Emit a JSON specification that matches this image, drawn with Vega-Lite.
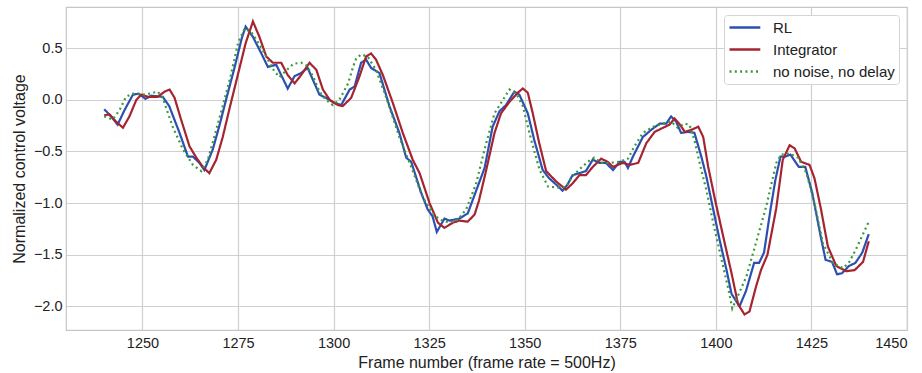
{
  "$schema": "https://vega.github.io/schema/vega-lite/v6.json",
  "width": 841,
  "height": 323,
  "autosize": {"type": "none"},
  "padding": {"left": 66, "top": 7, "right": 15, "bottom": 43},
  "background": "white",
  "config": {
    "view": {"stroke": "#c6c6c6", "strokeWidth": 1.2},
    "font": "Liberation Sans",
    "axis": {
      "domain": false,
      "ticks": false,
      "gridColor": "#cfcfcf",
      "gridWidth": 1.2,
      "labelColor": "#222222",
      "titleColor": "#222222",
      "labelFontSize": 14.5,
      "titleFontSize": 16,
      "titleFontWeight": "normal",
      "labelFont": "Liberation Sans",
      "titleFont": "Liberation Sans"
    },
    "legend": {
      "labelFont": "Liberation Sans",
      "labelFontSize": 15,
      "labelColor": "#222222"
    }
  },
  "data": {
    "values": [
      {"frame": 1240, "v": -0.09, "series": "RL"},
      {"frame": 1242, "v": -0.17, "series": "RL"},
      {"frame": 1243.5, "v": -0.24, "series": "RL"},
      {"frame": 1245.3, "v": -0.10, "series": "RL"},
      {"frame": 1247.5, "v": 0.05, "series": "RL"},
      {"frame": 1249, "v": 0.06, "series": "RL"},
      {"frame": 1250.8, "v": 0.01, "series": "RL"},
      {"frame": 1252.3, "v": 0.04, "series": "RL"},
      {"frame": 1255.3, "v": 0.03, "series": "RL"},
      {"frame": 1257, "v": -0.06, "series": "RL"},
      {"frame": 1259.7, "v": -0.32, "series": "RL"},
      {"frame": 1261.9, "v": -0.55, "series": "RL"},
      {"frame": 1263.2, "v": -0.55, "series": "RL"},
      {"frame": 1264.9, "v": -0.61, "series": "RL"},
      {"frame": 1266.2, "v": -0.68, "series": "RL"},
      {"frame": 1268.4, "v": -0.48, "series": "RL"},
      {"frame": 1270.2, "v": -0.24, "series": "RL"},
      {"frame": 1272, "v": 0.02, "series": "RL"},
      {"frame": 1274, "v": 0.30, "series": "RL"},
      {"frame": 1276, "v": 0.60, "series": "RL"},
      {"frame": 1277, "v": 0.71, "series": "RL"},
      {"frame": 1278.9, "v": 0.61, "series": "RL"},
      {"frame": 1281.1, "v": 0.45, "series": "RL"},
      {"frame": 1282.8, "v": 0.32, "series": "RL"},
      {"frame": 1285, "v": 0.34, "series": "RL"},
      {"frame": 1286.7, "v": 0.21, "series": "RL"},
      {"frame": 1288, "v": 0.11, "series": "RL"},
      {"frame": 1289.8, "v": 0.23, "series": "RL"},
      {"frame": 1291.5, "v": 0.26, "series": "RL"},
      {"frame": 1293.2, "v": 0.31, "series": "RL"},
      {"frame": 1295, "v": 0.16, "series": "RL"},
      {"frame": 1296.3, "v": 0.05, "series": "RL"},
      {"frame": 1298, "v": 0.02, "series": "RL"},
      {"frame": 1300.2, "v": -0.03, "series": "RL"},
      {"frame": 1302, "v": -0.05, "series": "RL"},
      {"frame": 1304.2, "v": 0.10, "series": "RL"},
      {"frame": 1305.5, "v": 0.13, "series": "RL"},
      {"frame": 1307.2, "v": 0.36, "series": "RL"},
      {"frame": 1308.5, "v": 0.39, "series": "RL"},
      {"frame": 1309.8, "v": 0.31, "series": "RL"},
      {"frame": 1312, "v": 0.26, "series": "RL"},
      {"frame": 1314.6, "v": -0.06, "series": "RL"},
      {"frame": 1317.2, "v": -0.32, "series": "RL"},
      {"frame": 1319, "v": -0.56, "series": "RL"},
      {"frame": 1320.3, "v": -0.60, "series": "RL"},
      {"frame": 1322.9, "v": -0.90, "series": "RL"},
      {"frame": 1324.6, "v": -1.06, "series": "RL"},
      {"frame": 1325.9, "v": -1.13, "series": "RL"},
      {"frame": 1327, "v": -1.28, "series": "RL"},
      {"frame": 1329, "v": -1.15, "series": "RL"},
      {"frame": 1330.3, "v": -1.17, "series": "RL"},
      {"frame": 1332.9, "v": -1.15, "series": "RL"},
      {"frame": 1335.1, "v": -1.10, "series": "RL"},
      {"frame": 1337.3, "v": -0.88, "series": "RL"},
      {"frame": 1339.5, "v": -0.66, "series": "RL"},
      {"frame": 1341.6, "v": -0.26, "series": "RL"},
      {"frame": 1343.4, "v": -0.11, "series": "RL"},
      {"frame": 1345.1, "v": -0.05, "series": "RL"},
      {"frame": 1347.3, "v": 0.08, "series": "RL"},
      {"frame": 1348.6, "v": 0.05, "series": "RL"},
      {"frame": 1350.8, "v": -0.13, "series": "RL"},
      {"frame": 1352.5, "v": -0.39, "series": "RL"},
      {"frame": 1354.7, "v": -0.68, "series": "RL"},
      {"frame": 1356.4, "v": -0.76, "series": "RL"},
      {"frame": 1358.2, "v": -0.82, "series": "RL"},
      {"frame": 1359.9, "v": -0.88, "series": "RL"},
      {"frame": 1361.2, "v": -0.82, "series": "RL"},
      {"frame": 1362.5, "v": -0.73, "series": "RL"},
      {"frame": 1364.3, "v": -0.71, "series": "RL"},
      {"frame": 1366, "v": -0.69, "series": "RL"},
      {"frame": 1367.8, "v": -0.58, "series": "RL"},
      {"frame": 1369.5, "v": -0.61, "series": "RL"},
      {"frame": 1371.2, "v": -0.61, "series": "RL"},
      {"frame": 1373.1, "v": -0.68, "series": "RL"},
      {"frame": 1374.8, "v": -0.60, "series": "RL"},
      {"frame": 1376.1, "v": -0.60, "series": "RL"},
      {"frame": 1377, "v": -0.66, "series": "RL"},
      {"frame": 1378.3, "v": -0.55, "series": "RL"},
      {"frame": 1380.9, "v": -0.36, "series": "RL"},
      {"frame": 1383.1, "v": -0.29, "series": "RL"},
      {"frame": 1385.3, "v": -0.23, "series": "RL"},
      {"frame": 1387, "v": -0.23, "series": "RL"},
      {"frame": 1388.3, "v": -0.16, "series": "RL"},
      {"frame": 1389.6, "v": -0.21, "series": "RL"},
      {"frame": 1390.9, "v": -0.32, "series": "RL"},
      {"frame": 1392.7, "v": -0.31, "series": "RL"},
      {"frame": 1394.4, "v": -0.32, "series": "RL"},
      {"frame": 1396.2, "v": -0.55, "series": "RL"},
      {"frame": 1397.5, "v": -0.74, "series": "RL"},
      {"frame": 1399.3, "v": -1.06, "series": "RL"},
      {"frame": 1401, "v": -1.36, "series": "RL"},
      {"frame": 1402.8, "v": -1.65, "series": "RL"},
      {"frame": 1404.1, "v": -1.88, "series": "RL"},
      {"frame": 1406.2, "v": -2.00, "series": "RL"},
      {"frame": 1407.9, "v": -1.85, "series": "RL"},
      {"frame": 1410, "v": -1.58, "series": "RL"},
      {"frame": 1411.3, "v": -1.58, "series": "RL"},
      {"frame": 1412.6, "v": -1.48, "series": "RL"},
      {"frame": 1414.3, "v": -1.06, "series": "RL"},
      {"frame": 1415.6, "v": -0.77, "series": "RL"},
      {"frame": 1416.9, "v": -0.55, "series": "RL"},
      {"frame": 1418.2, "v": -0.55, "series": "RL"},
      {"frame": 1419.5, "v": -0.53, "series": "RL"},
      {"frame": 1421.7, "v": -0.65, "series": "RL"},
      {"frame": 1423.4, "v": -0.65, "series": "RL"},
      {"frame": 1425.2, "v": -0.90, "series": "RL"},
      {"frame": 1427.4, "v": -1.32, "series": "RL"},
      {"frame": 1428.7, "v": -1.55, "series": "RL"},
      {"frame": 1430.4, "v": -1.57, "series": "RL"},
      {"frame": 1431.7, "v": -1.69, "series": "RL"},
      {"frame": 1433, "v": -1.68, "series": "RL"},
      {"frame": 1434.8, "v": -1.61, "series": "RL"},
      {"frame": 1436.5, "v": -1.58, "series": "RL"},
      {"frame": 1438.3, "v": -1.48, "series": "RL"},
      {"frame": 1440, "v": -1.30, "series": "RL"},

      {"frame": 1240, "v": -0.15, "series": "Integrator"},
      {"frame": 1241.4, "v": -0.14, "series": "Integrator"},
      {"frame": 1243.1, "v": -0.21, "series": "Integrator"},
      {"frame": 1244.9, "v": -0.27, "series": "Integrator"},
      {"frame": 1246.6, "v": -0.16, "series": "Integrator"},
      {"frame": 1248.4, "v": 0.0, "series": "Integrator"},
      {"frame": 1249.7, "v": 0.05, "series": "Integrator"},
      {"frame": 1251.4, "v": 0.03, "series": "Integrator"},
      {"frame": 1254, "v": 0.03, "series": "Integrator"},
      {"frame": 1255.8, "v": 0.08, "series": "Integrator"},
      {"frame": 1257.1, "v": 0.10, "series": "Integrator"},
      {"frame": 1258.4, "v": 0.02, "series": "Integrator"},
      {"frame": 1260.1, "v": -0.19, "series": "Integrator"},
      {"frame": 1262.3, "v": -0.45, "series": "Integrator"},
      {"frame": 1264.1, "v": -0.56, "series": "Integrator"},
      {"frame": 1265.8, "v": -0.65, "series": "Integrator"},
      {"frame": 1267.5, "v": -0.71, "series": "Integrator"},
      {"frame": 1269.3, "v": -0.58, "series": "Integrator"},
      {"frame": 1271, "v": -0.36, "series": "Integrator"},
      {"frame": 1273, "v": -0.05, "series": "Integrator"},
      {"frame": 1275, "v": 0.25, "series": "Integrator"},
      {"frame": 1277, "v": 0.55, "series": "Integrator"},
      {"frame": 1278.9, "v": 0.76, "series": "Integrator"},
      {"frame": 1280.6, "v": 0.61, "series": "Integrator"},
      {"frame": 1282.4, "v": 0.42, "series": "Integrator"},
      {"frame": 1284.1, "v": 0.36, "series": "Integrator"},
      {"frame": 1286.3, "v": 0.36, "series": "Integrator"},
      {"frame": 1288, "v": 0.24, "series": "Integrator"},
      {"frame": 1289.8, "v": 0.16, "series": "Integrator"},
      {"frame": 1291.5, "v": 0.24, "series": "Integrator"},
      {"frame": 1293.7, "v": 0.36, "series": "Integrator"},
      {"frame": 1295.5, "v": 0.29, "series": "Integrator"},
      {"frame": 1297.2, "v": 0.10, "series": "Integrator"},
      {"frame": 1299, "v": 0.0, "series": "Integrator"},
      {"frame": 1301.1, "v": -0.05, "series": "Integrator"},
      {"frame": 1302.4, "v": -0.06, "series": "Integrator"},
      {"frame": 1304.6, "v": 0.02, "series": "Integrator"},
      {"frame": 1306.8, "v": 0.23, "series": "Integrator"},
      {"frame": 1308.5, "v": 0.42, "series": "Integrator"},
      {"frame": 1309.8, "v": 0.45, "series": "Integrator"},
      {"frame": 1311.1, "v": 0.39, "series": "Integrator"},
      {"frame": 1312.9, "v": 0.24, "series": "Integrator"},
      {"frame": 1315.5, "v": -0.03, "series": "Integrator"},
      {"frame": 1318.1, "v": -0.32, "series": "Integrator"},
      {"frame": 1320.7, "v": -0.58, "series": "Integrator"},
      {"frame": 1322.5, "v": -0.71, "series": "Integrator"},
      {"frame": 1325.1, "v": -1.0, "series": "Integrator"},
      {"frame": 1327.3, "v": -1.19, "series": "Integrator"},
      {"frame": 1329, "v": -1.24, "series": "Integrator"},
      {"frame": 1331.2, "v": -1.19, "series": "Integrator"},
      {"frame": 1332.9, "v": -1.17, "series": "Integrator"},
      {"frame": 1335.1, "v": -1.18, "series": "Integrator"},
      {"frame": 1336.9, "v": -1.11, "series": "Integrator"},
      {"frame": 1338, "v": -0.98, "series": "Integrator"},
      {"frame": 1339.8, "v": -0.70, "series": "Integrator"},
      {"frame": 1342.1, "v": -0.32, "series": "Integrator"},
      {"frame": 1343.8, "v": -0.13, "series": "Integrator"},
      {"frame": 1346, "v": -0.02, "series": "Integrator"},
      {"frame": 1348.2, "v": 0.07, "series": "Integrator"},
      {"frame": 1349.5, "v": 0.11, "series": "Integrator"},
      {"frame": 1350.8, "v": 0.07, "series": "Integrator"},
      {"frame": 1352.1, "v": -0.13, "series": "Integrator"},
      {"frame": 1353.8, "v": -0.42, "series": "Integrator"},
      {"frame": 1355.6, "v": -0.69, "series": "Integrator"},
      {"frame": 1358.2, "v": -0.79, "series": "Integrator"},
      {"frame": 1360.8, "v": -0.87, "series": "Integrator"},
      {"frame": 1362.5, "v": -0.81, "series": "Integrator"},
      {"frame": 1364.3, "v": -0.73, "series": "Integrator"},
      {"frame": 1366, "v": -0.73, "series": "Integrator"},
      {"frame": 1367.8, "v": -0.65, "series": "Integrator"},
      {"frame": 1370, "v": -0.57, "series": "Integrator"},
      {"frame": 1371.7, "v": -0.60, "series": "Integrator"},
      {"frame": 1373.1, "v": -0.65, "series": "Integrator"},
      {"frame": 1375.7, "v": -0.61, "series": "Integrator"},
      {"frame": 1377.5, "v": -0.63, "series": "Integrator"},
      {"frame": 1379.7, "v": -0.61, "series": "Integrator"},
      {"frame": 1381.8, "v": -0.42, "series": "Integrator"},
      {"frame": 1384, "v": -0.31, "series": "Integrator"},
      {"frame": 1386.2, "v": -0.27, "series": "Integrator"},
      {"frame": 1387.9, "v": -0.24, "series": "Integrator"},
      {"frame": 1389.2, "v": -0.18, "series": "Integrator"},
      {"frame": 1390.6, "v": -0.24, "series": "Integrator"},
      {"frame": 1391.9, "v": -0.31, "series": "Integrator"},
      {"frame": 1393.6, "v": -0.29, "series": "Integrator"},
      {"frame": 1395.4, "v": -0.26, "series": "Integrator"},
      {"frame": 1396.7, "v": -0.36, "series": "Integrator"},
      {"frame": 1398, "v": -0.65, "series": "Integrator"},
      {"frame": 1399.8, "v": -0.97, "series": "Integrator"},
      {"frame": 1401.9, "v": -1.32, "series": "Integrator"},
      {"frame": 1404.1, "v": -1.68, "series": "Integrator"},
      {"frame": 1405.8, "v": -1.98, "series": "Integrator"},
      {"frame": 1407.5, "v": -2.08, "series": "Integrator"},
      {"frame": 1408.8, "v": -2.05, "series": "Integrator"},
      {"frame": 1410.5, "v": -1.81, "series": "Integrator"},
      {"frame": 1411.8, "v": -1.65, "series": "Integrator"},
      {"frame": 1413.5, "v": -1.50, "series": "Integrator"},
      {"frame": 1415.8, "v": -1.05, "series": "Integrator"},
      {"frame": 1417.5, "v": -0.58, "series": "Integrator"},
      {"frame": 1419.3, "v": -0.44, "series": "Integrator"},
      {"frame": 1420.6, "v": -0.47, "series": "Integrator"},
      {"frame": 1422.3, "v": -0.60, "series": "Integrator"},
      {"frame": 1424.5, "v": -0.63, "series": "Integrator"},
      {"frame": 1425.8, "v": -0.76, "series": "Integrator"},
      {"frame": 1427.5, "v": -1.06, "series": "Integrator"},
      {"frame": 1429.3, "v": -1.42, "series": "Integrator"},
      {"frame": 1431.5, "v": -1.61, "series": "Integrator"},
      {"frame": 1434.1, "v": -1.66, "series": "Integrator"},
      {"frame": 1436.3, "v": -1.65, "series": "Integrator"},
      {"frame": 1438.5, "v": -1.57, "series": "Integrator"},
      {"frame": 1440, "v": -1.37, "series": "Integrator"},

      {"frame": 1240, "v": -0.16, "series": "no noise, no delay"},
      {"frame": 1242.2, "v": -0.19, "series": "no noise, no delay"},
      {"frame": 1244, "v": -0.10, "series": "no noise, no delay"},
      {"frame": 1245.7, "v": 0.03, "series": "no noise, no delay"},
      {"frame": 1247.5, "v": 0.06, "series": "no noise, no delay"},
      {"frame": 1250.1, "v": 0.05, "series": "no noise, no delay"},
      {"frame": 1251.8, "v": 0.06, "series": "no noise, no delay"},
      {"frame": 1254, "v": 0.08, "series": "no noise, no delay"},
      {"frame": 1255.3, "v": 0.02, "series": "no noise, no delay"},
      {"frame": 1257.9, "v": -0.26, "series": "no noise, no delay"},
      {"frame": 1260.6, "v": -0.48, "series": "no noise, no delay"},
      {"frame": 1263.2, "v": -0.63, "series": "no noise, no delay"},
      {"frame": 1265.4, "v": -0.69, "series": "no noise, no delay"},
      {"frame": 1267.1, "v": -0.58, "series": "no noise, no delay"},
      {"frame": 1269.3, "v": -0.29, "series": "no noise, no delay"},
      {"frame": 1271, "v": -0.06, "series": "no noise, no delay"},
      {"frame": 1273, "v": 0.22, "series": "no noise, no delay"},
      {"frame": 1275, "v": 0.55, "series": "no noise, no delay"},
      {"frame": 1276.7, "v": 0.69, "series": "no noise, no delay"},
      {"frame": 1278.4, "v": 0.66, "series": "no noise, no delay"},
      {"frame": 1280.2, "v": 0.56, "series": "no noise, no delay"},
      {"frame": 1282.4, "v": 0.42, "series": "no noise, no delay"},
      {"frame": 1284.1, "v": 0.30, "series": "no noise, no delay"},
      {"frame": 1285.8, "v": 0.22, "series": "no noise, no delay"},
      {"frame": 1287.5, "v": 0.28, "series": "no noise, no delay"},
      {"frame": 1289.5, "v": 0.35, "series": "no noise, no delay"},
      {"frame": 1291.5, "v": 0.36, "series": "no noise, no delay"},
      {"frame": 1293, "v": 0.33, "series": "no noise, no delay"},
      {"frame": 1294.6, "v": 0.23, "series": "no noise, no delay"},
      {"frame": 1296.3, "v": 0.08, "series": "no noise, no delay"},
      {"frame": 1298, "v": 0.0, "series": "no noise, no delay"},
      {"frame": 1299.8, "v": -0.05, "series": "no noise, no delay"},
      {"frame": 1301.5, "v": 0.0, "series": "no noise, no delay"},
      {"frame": 1303.8, "v": 0.16, "series": "no noise, no delay"},
      {"frame": 1305.1, "v": 0.32, "series": "no noise, no delay"},
      {"frame": 1305.9, "v": 0.40, "series": "no noise, no delay"},
      {"frame": 1307.2, "v": 0.44, "series": "no noise, no delay"},
      {"frame": 1308.9, "v": 0.42, "series": "no noise, no delay"},
      {"frame": 1311.1, "v": 0.29, "series": "no noise, no delay"},
      {"frame": 1313.8, "v": 0.02, "series": "no noise, no delay"},
      {"frame": 1317.2, "v": -0.36, "series": "no noise, no delay"},
      {"frame": 1320.3, "v": -0.65, "series": "no noise, no delay"},
      {"frame": 1323.3, "v": -0.94, "series": "no noise, no delay"},
      {"frame": 1325.9, "v": -1.10, "series": "no noise, no delay"},
      {"frame": 1327.7, "v": -1.16, "series": "no noise, no delay"},
      {"frame": 1330.3, "v": -1.19, "series": "no noise, no delay"},
      {"frame": 1332.5, "v": -1.16, "series": "no noise, no delay"},
      {"frame": 1334.7, "v": -1.06, "series": "no noise, no delay"},
      {"frame": 1337.3, "v": -0.81, "series": "no noise, no delay"},
      {"frame": 1339.7, "v": -0.45, "series": "no noise, no delay"},
      {"frame": 1342.1, "v": -0.13, "series": "no noise, no delay"},
      {"frame": 1344.3, "v": 0.0, "series": "no noise, no delay"},
      {"frame": 1346, "v": 0.10, "series": "no noise, no delay"},
      {"frame": 1347.8, "v": 0.06, "series": "no noise, no delay"},
      {"frame": 1349.5, "v": -0.06, "series": "no noise, no delay"},
      {"frame": 1351.7, "v": -0.39, "series": "no noise, no delay"},
      {"frame": 1353.9, "v": -0.68, "series": "no noise, no delay"},
      {"frame": 1356.1, "v": -0.84, "series": "no noise, no delay"},
      {"frame": 1358.7, "v": -0.85, "series": "no noise, no delay"},
      {"frame": 1360.8, "v": -0.84, "series": "no noise, no delay"},
      {"frame": 1362.5, "v": -0.74, "series": "no noise, no delay"},
      {"frame": 1364.7, "v": -0.66, "series": "no noise, no delay"},
      {"frame": 1366.5, "v": -0.60, "series": "no noise, no delay"},
      {"frame": 1368.2, "v": -0.56, "series": "no noise, no delay"},
      {"frame": 1370, "v": -0.61, "series": "no noise, no delay"},
      {"frame": 1372.5, "v": -0.61, "series": "no noise, no delay"},
      {"frame": 1374.8, "v": -0.60, "series": "no noise, no delay"},
      {"frame": 1377, "v": -0.57, "series": "no noise, no delay"},
      {"frame": 1378.7, "v": -0.45, "series": "no noise, no delay"},
      {"frame": 1380.9, "v": -0.32, "series": "no noise, no delay"},
      {"frame": 1383.6, "v": -0.26, "series": "no noise, no delay"},
      {"frame": 1386.2, "v": -0.23, "series": "no noise, no delay"},
      {"frame": 1388.3, "v": -0.21, "series": "no noise, no delay"},
      {"frame": 1390, "v": -0.27, "series": "no noise, no delay"},
      {"frame": 1391.8, "v": -0.23, "series": "no noise, no delay"},
      {"frame": 1393.1, "v": -0.24, "series": "no noise, no delay"},
      {"frame": 1394.4, "v": -0.39, "series": "no noise, no delay"},
      {"frame": 1396.2, "v": -0.68, "series": "no noise, no delay"},
      {"frame": 1397.5, "v": -0.87, "series": "no noise, no delay"},
      {"frame": 1399.3, "v": -1.19, "series": "no noise, no delay"},
      {"frame": 1401.5, "v": -1.55, "series": "no noise, no delay"},
      {"frame": 1403.3, "v": -1.84, "series": "no noise, no delay"},
      {"frame": 1404.3, "v": -2.02, "series": "no noise, no delay"},
      {"frame": 1406, "v": -1.88, "series": "no noise, no delay"},
      {"frame": 1408, "v": -1.71, "series": "no noise, no delay"},
      {"frame": 1410, "v": -1.45, "series": "no noise, no delay"},
      {"frame": 1413.2, "v": -1.03, "series": "no noise, no delay"},
      {"frame": 1415.8, "v": -0.61, "series": "no noise, no delay"},
      {"frame": 1417.1, "v": -0.53, "series": "no noise, no delay"},
      {"frame": 1419.3, "v": -0.52, "series": "no noise, no delay"},
      {"frame": 1421.5, "v": -0.56, "series": "no noise, no delay"},
      {"frame": 1423.7, "v": -0.71, "series": "no noise, no delay"},
      {"frame": 1425.8, "v": -1.0, "series": "no noise, no delay"},
      {"frame": 1428, "v": -1.39, "series": "no noise, no delay"},
      {"frame": 1430.6, "v": -1.58, "series": "no noise, no delay"},
      {"frame": 1433.2, "v": -1.63, "series": "no noise, no delay"},
      {"frame": 1434.8, "v": -1.58, "series": "no noise, no delay"},
      {"frame": 1437, "v": -1.42, "series": "no noise, no delay"},
      {"frame": 1440, "v": -1.18, "series": "no noise, no delay"}
    ]
  },
  "mark": {"type": "line", "strokeWidth": 2.2, "clip": true},
  "encoding": {
    "x": {
      "field": "frame",
      "type": "quantitative",
      "scale": {"domain": [1230, 1450], "nice": false, "zero": false},
      "axis": {
        "values": [1250, 1275, 1300, 1325, 1350, 1375, 1400, 1425, 1450],
        "format": "d",
        "labelPadding": 6,
        "titlePadding": 5,
        "title": "Frame number (frame rate = 500Hz)"
      }
    },
    "y": {
      "field": "v",
      "type": "quantitative",
      "scale": {"domain": [-2.23, 0.9], "nice": false, "zero": false},
      "axis": {
        "values": [-2, -1.5, -1, -0.5, 0, 0.5],
        "format": ".1f",
        "labelPadding": 4,
        "titlePadding": 6,
        "title": "Normalized control voltage"
      }
    },
    "color": {
      "field": "series",
      "type": "nominal",
      "scale": {
        "domain": ["RL", "Integrator", "no noise, no delay"],
        "range": ["#2c4fb2", "#a6242f", "#3a9a3a"]
      },
      "legend": {
        "title": null,
        "orient": "none",
        "legendX": 658,
        "legendY": 8,
        "symbolType": "M-1,0H3.4",
        "symbolSize": 196,
        "symbolStrokeWidth": 2.5,
        "labelOffset": 28,
        "rowPadding": 5,
        "padding": 4,
        "fillColor": "white",
        "strokeColor": "#d4d4d4",
        "cornerRadius": 3
      }
    },
    "strokeDash": {
      "field": "series",
      "type": "nominal",
      "scale": {
        "domain": ["RL", "Integrator", "no noise, no delay"],
        "range": [[1, 0], [1, 0], [2, 3.3]]
      },
      "legend": {
        "title": null,
        "orient": "none",
        "legendX": 658,
        "legendY": 8
      }
    }
  }
}
